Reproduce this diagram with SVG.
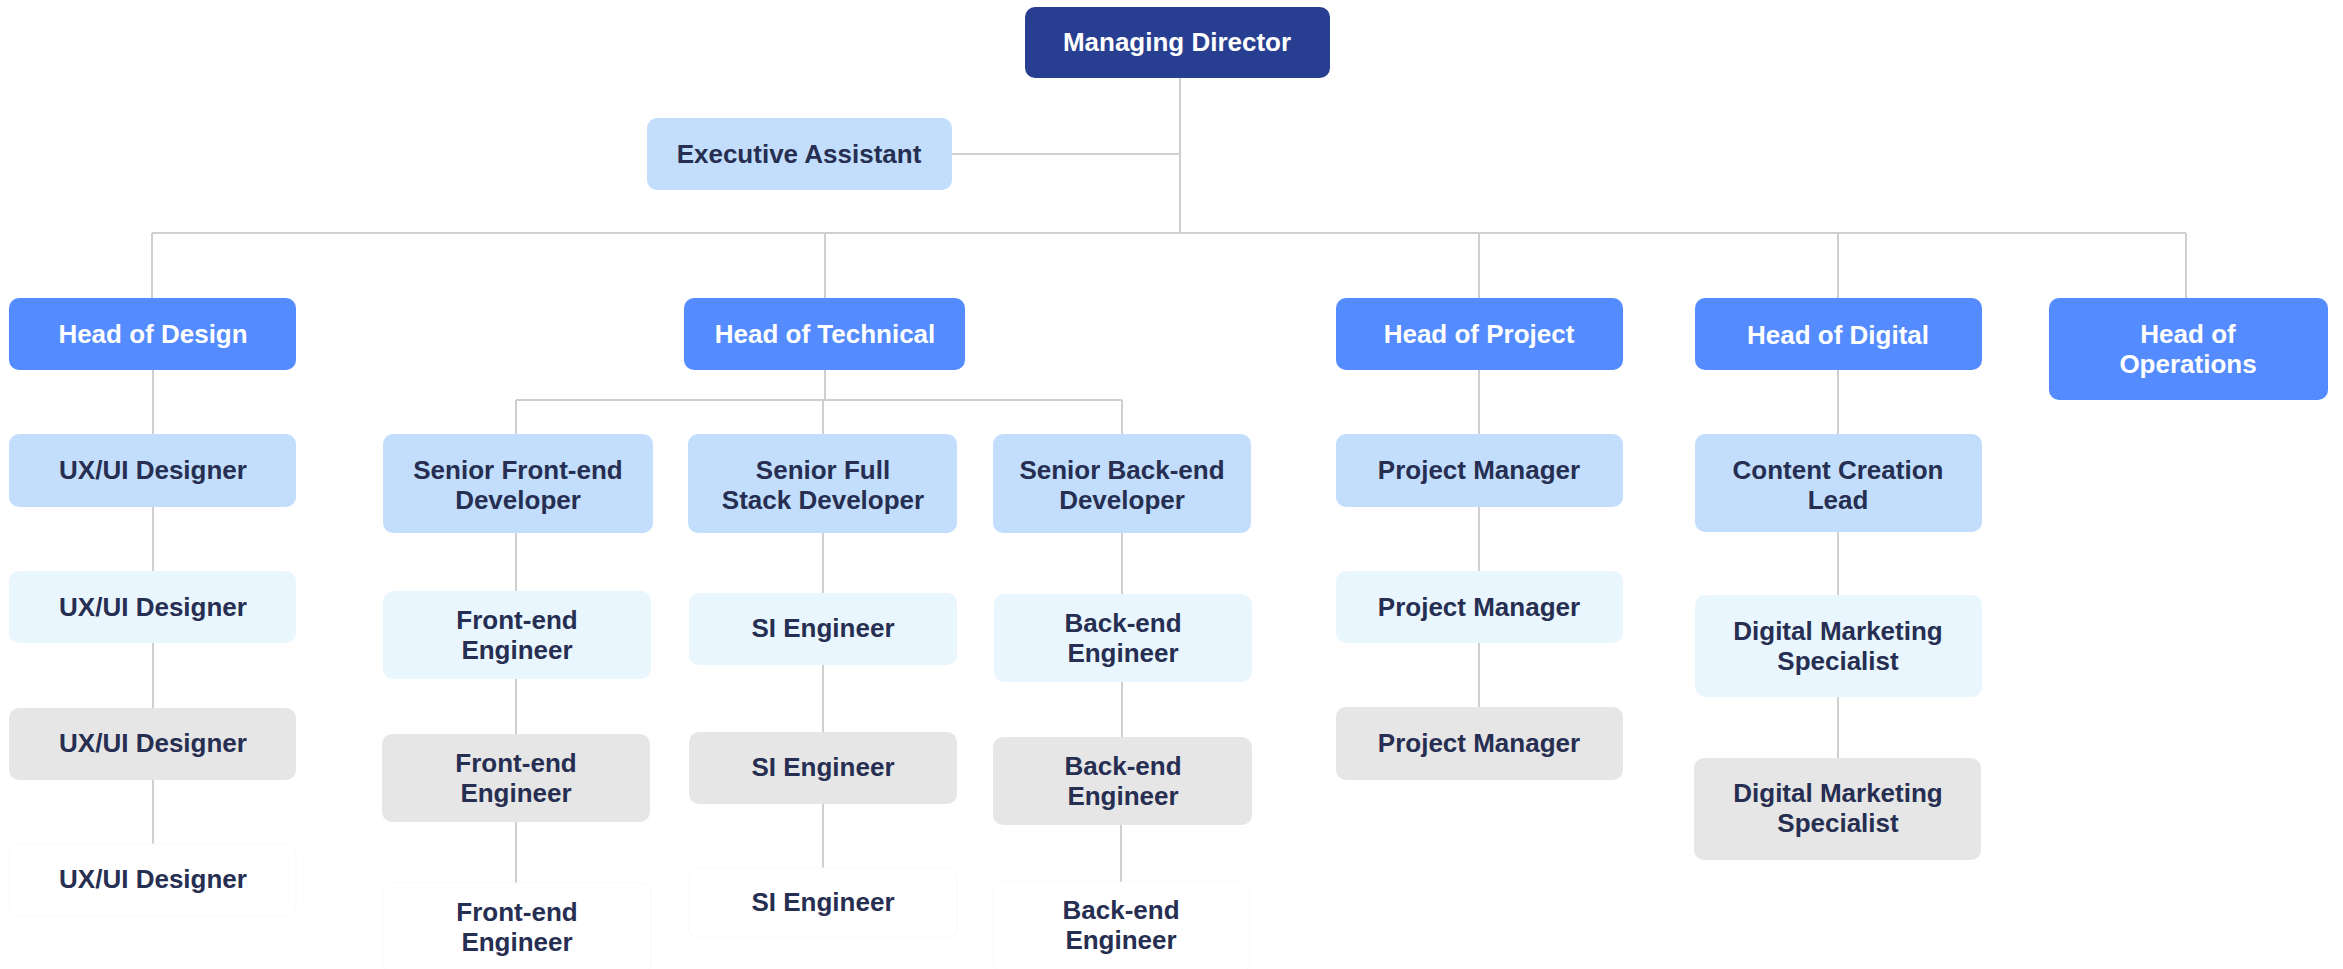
<svg xmlns="http://www.w3.org/2000/svg" width="2343" height="969" viewBox="0 0 2343 969">
<style>
text{font-family:"Liberation Sans",Arial,sans-serif;font-weight:700;font-size:26px;text-anchor:middle}
.md rect{fill:#283f91}
.hd rect{fill:#548bff}
.l1 rect{fill:#c2defc}
.l2 rect{fill:#e9f6fe}
.l3 rect{fill:#e6e6e6}
.l4 rect{fill:#ffffff;stroke:#f9f9f9;stroke-width:1}
.md text,.hd text{fill:#ffffff}
.l1 text,.l2 text,.l3 text,.l4 text{fill:#262e52}
#connectors path{fill:none;stroke:#cfcfcf;stroke-width:2}
</style>
<rect width="2343" height="969" fill="#ffffff"/>
<g id="connectors">
<path d="M1180 78V233M952 154H1180M152 233H2186M152 233V298M825 233V298M1479 233V298M1838 233V298M2186 233V298"/>
<path d="M153 370V434M153 507V571M153 643V708M153 780V844"/>
<path d="M825 370V400M516 400H1122M516 400V434M823 400V434M1122 400V434"/>
<path d="M516 533V591M516 679V734M516 822V883"/>
<path d="M823 533V593M823 665V732M823 804V868"/>
<path d="M1122 533V594M1122 682V737M1121 825V882"/>
<path d="M1479 370V434M1479 507V571M1479 643V707"/>
<path d="M1838 370V434M1838 532V595M1838 697V758"/>
</g>
<g id="managing-director" class="md"><rect x="1025" y="7" width="305" height="71" rx="10"/><text x="1177" y="51">Managing Director</text></g>
<g id="executive-assistant" class="l1"><rect x="647" y="118" width="305" height="72" rx="10"/><text x="799" y="163">Executive Assistant</text></g>
<g id="head-design" class="hd"><rect x="9" y="298" width="287" height="72" rx="10"/><text x="153" y="343">Head of Design</text></g>
<g id="head-technical" class="hd"><rect x="684" y="298" width="281" height="72" rx="10"/><text x="825" y="343">Head of Technical</text></g>
<g id="head-project" class="hd"><rect x="1336" y="298" width="287" height="72" rx="10"/><text x="1479" y="343">Head of Project</text></g>
<g id="head-digital" class="hd"><rect x="1695" y="298" width="287" height="72" rx="10"/><text x="1838" y="344">Head of Digital</text></g>
<g id="head-operations" class="hd"><rect x="2049" y="298" width="279" height="102" rx="10"/><text x="2188" y="343">Head of</text><text x="2188" y="373">Operations</text></g>
<g id="uxui-1" class="l1"><rect x="9" y="434" width="287" height="73" rx="10"/><text x="153" y="479">UX/UI Designer</text></g>
<g id="uxui-2" class="l2"><rect x="9" y="571" width="287" height="72" rx="10"/><text x="153" y="616">UX/UI Designer</text></g>
<g id="uxui-3" class="l3"><rect x="9" y="708" width="287" height="72" rx="10"/><text x="153" y="752">UX/UI Designer</text></g>
<g id="uxui-4" class="l4"><rect x="9" y="844" width="287" height="72" rx="10"/><text x="153" y="888">UX/UI Designer</text></g>
<g id="senior-frontend" class="l1"><rect x="383" y="434" width="270" height="99" rx="10"/><text x="518" y="479">Senior Front-end</text><text x="518" y="509">Developer</text></g>
<g id="senior-fullstack" class="l1"><rect x="688" y="434" width="269" height="99" rx="10"/><text x="823" y="479">Senior Full</text><text x="823" y="509">Stack Developer</text></g>
<g id="senior-backend" class="l1"><rect x="993" y="434" width="258" height="99" rx="10"/><text x="1122" y="479">Senior Back-end</text><text x="1122" y="509">Developer</text></g>
<g id="frontend-1" class="l2"><rect x="383" y="591" width="268" height="88" rx="10"/><text x="517" y="629">Front-end</text><text x="517" y="659">Engineer</text></g>
<g id="frontend-2" class="l3"><rect x="382" y="734" width="268" height="88" rx="10"/><text x="516" y="772">Front-end</text><text x="516" y="802">Engineer</text></g>
<g id="frontend-3" class="l4"><rect x="383" y="883" width="268" height="90" rx="10"/><text x="517" y="921">Front-end</text><text x="517" y="951">Engineer</text></g>
<g id="si-1" class="l2"><rect x="689" y="593" width="268" height="72" rx="10"/><text x="823" y="637">SI Engineer</text></g>
<g id="si-2" class="l3"><rect x="689" y="732" width="268" height="72" rx="10"/><text x="823" y="776">SI Engineer</text></g>
<g id="si-3" class="l4"><rect x="689" y="868" width="268" height="70" rx="10"/><text x="823" y="911">SI Engineer</text></g>
<g id="backend-1" class="l2"><rect x="994" y="594" width="258" height="88" rx="10"/><text x="1123" y="632">Back-end</text><text x="1123" y="662">Engineer</text></g>
<g id="backend-2" class="l3"><rect x="993" y="737" width="259" height="88" rx="10"/><text x="1123" y="775">Back-end</text><text x="1123" y="805">Engineer</text></g>
<g id="backend-3" class="l4"><rect x="993" y="882" width="257" height="90" rx="10"/><text x="1121" y="919">Back-end</text><text x="1121" y="949">Engineer</text></g>
<g id="pm-1" class="l1"><rect x="1336" y="434" width="287" height="73" rx="10"/><text x="1479" y="479">Project Manager</text></g>
<g id="pm-2" class="l2"><rect x="1336" y="571" width="287" height="72" rx="10"/><text x="1479" y="616">Project Manager</text></g>
<g id="pm-3" class="l3"><rect x="1336" y="707" width="287" height="73" rx="10"/><text x="1479" y="752">Project Manager</text></g>
<g id="content-lead" class="l1"><rect x="1695" y="434" width="287" height="98" rx="10"/><text x="1838" y="479">Content Creation</text><text x="1838" y="509">Lead</text></g>
<g id="dms-1" class="l2"><rect x="1695" y="595" width="287" height="102" rx="10"/><text x="1838" y="640">Digital Marketing</text><text x="1838" y="670">Specialist</text></g>
<g id="dms-2" class="l3"><rect x="1694" y="758" width="287" height="102" rx="10"/><text x="1838" y="802">Digital Marketing</text><text x="1838" y="832">Specialist</text></g>
</svg>
